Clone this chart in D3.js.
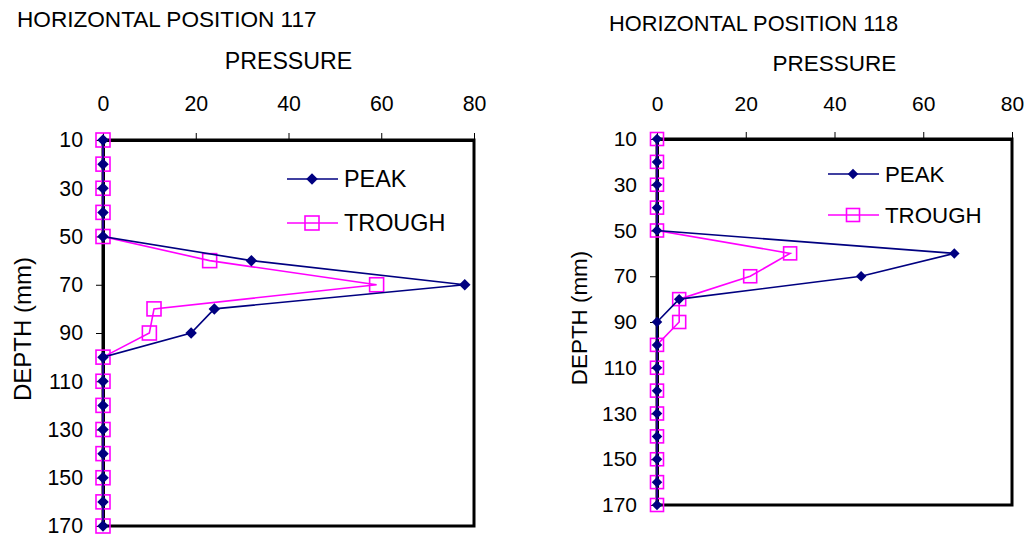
<!DOCTYPE html>
<html>
<head>
<meta charset="utf-8">
<script src="https://cdn.jsdelivr.net/npm/d3@7"></script>
<style>
  html, body { margin: 0; padding: 0; background: #fff; }
  svg { display: block; font-family: Arial, "Liberation Sans", sans-serif; }
</style>
</head>
<body>
<svg id="chart" width="1029" height="537"></svg>
<script>
// ---- data ----
const depths = [10, 20, 30, 40, 50, 60, 70, 80, 90, 100, 110, 120, 130, 140, 150, 160, 170];
const peak117 = [0, 0, 0, 0, 0, 32, 78, 24, 19, 0, 0, 0, 0, 0, 0, 0, 0];
const trough117 = [0, 0, 0, 0, 0, 23, 59, 11, 10, 0, 0, 0, 0, 0, 0, 0, 0];
const peak118 = [0, 0, 0, 0, 0, 67, 46, 5, 0, 0, 0, 0, 0, 0, 0, 0, 0];
const trough118 = [0, 0, 0, 0, 0, 30, 21, 5, 5, 0, 0, 0, 0, 0, 0, 0, 0];
const xTicks = [0, 20, 40, 60, 80];
const yTicks = [10, 30, 50, 70, 90, 110, 130, 150, 170];
const seriesNames = ["PEAK", "TROUGH"];
const panelTitles = ["HORIZONTAL POSITION 117", "HORIZONTAL POSITION 118"];
const xTitle = "PRESSURE";
const yTitle = "DEPTH (mm)";

const PEAK_COLOR = "#000080";
const TROUGH_COLOR = "#FF00FF";

const svg = d3.select("#chart");

const panels = [
  { title: panelTitles[0], peak: peak117, trough: trough117,
    x0: 103, x1: 474, y0: 140, y1: 526,
    titleX: 17, titleY: 27, xTitleY: 69, tickY: 111,
    yTitleX: 31, legX: 287, legY: 179, legGap: 44, diamond: 11.5, square: 14,
    fTitle: 22.6, fAxisTitle: 23.2, fYTitle: 24, fTick: 21.3, fLeg: 23.4 },
  { title: panelTitles[1], peak: peak118, trough: trough118,
    x0: 657, x1: 1012, y0: 139, y1: 505,
    titleX: 609, titleY: 31, xTitleY: 71, tickY: 111,
    yTitleX: 587, legX: 828, legY: 174, legGap: 41, diamond: 10.5, square: 13,
    fTitle: 21.8, fAxisTitle: 22.5, fYTitle: 22.4, fTick: 21, fLeg: 22.3 }
];

function diamondPath(s) {
  const h = s / 2;
  return `M0,${-h}L${h},0L0,${h}L${-h},0Z`;
}

panels.forEach(p => {
  const g = svg.append("g");
  const x = d3.scaleLinear().domain([0, 80]).range([p.x0, p.x1]);
  const y = d3.scaleLinear().domain([10, 170]).range([p.y0, p.y1]);

  // titles
  g.append("text").attr("x", p.titleX).attr("y", p.titleY)
    .attr("font-size", p.fTitle).attr("fill", "#000").text(p.title);
  g.append("text").attr("x", (p.x0 + p.x1) / 2).attr("y", p.xTitleY)
    .attr("text-anchor", "middle").attr("font-size", p.fAxisTitle).attr("fill", "#000").text(xTitle);
  g.append("text")
    .attr("transform", `translate(${p.yTitleX},${(p.y0 + p.y1) / 2 - 4}) rotate(-90)`)
    .attr("text-anchor", "middle").attr("font-size", p.fYTitle).attr("fill", "#000").text(yTitle);

  // plot border
  g.append("rect").attr("x", p.x0).attr("y", p.y0)
    .attr("width", p.x1 - p.x0).attr("height", p.y1 - p.y0)
    .attr("fill", "none").attr("stroke", "#000").attr("stroke-width", 3);

  // top axis
  const xAxis = d3.axisTop(x).tickValues(xTicks).tickSize(7).tickPadding(p.y0 - 7 - p.tickY).tickSizeOuter(0);
  const gx = g.append("g").attr("transform", `translate(0,${p.y0})`).call(xAxis);
  gx.select(".domain").attr("stroke", "#000").attr("stroke-width", 3);
  gx.selectAll(".tick line").attr("stroke", "#000").attr("stroke-width", 1);
  gx.selectAll(".tick text").attr("font-size", p.fTick).attr("fill", "#000")
    .attr("font-family", "Arial, 'Liberation Sans', sans-serif").attr("dy", "0");

  // left axis
  const yAxis = d3.axisLeft(y).tickValues(yTicks).tickSize(7).tickPadding(13).tickSizeOuter(0);
  const gy = g.append("g").attr("transform", `translate(${p.x0},0)`).call(yAxis);
  gy.select(".domain").attr("stroke", "#000").attr("stroke-width", 3);
  gy.selectAll(".tick line").attr("stroke", "#000").attr("stroke-width", 1);
  gy.selectAll(".tick text").attr("font-size", p.fTick).attr("fill", "#000")
    .attr("font-family", "Arial, 'Liberation Sans', sans-serif");

  const line = d3.line().x(d => x(d.v)).y(d => y(d.d));
  const peakData = depths.map((d, i) => ({ d, v: p.peak[i] }));
  const troughData = depths.map((d, i) => ({ d, v: p.trough[i] }));

  // trough
  g.append("path").datum(troughData).attr("d", line)
    .attr("fill", "none").attr("stroke", TROUGH_COLOR).attr("stroke-width", 1.6);
  g.selectAll(".tm").data(troughData).enter().append("rect")
    .attr("x", d => x(d.v) - p.square / 2).attr("y", d => y(d.d) - p.square / 2)
    .attr("width", p.square).attr("height", p.square)
    .attr("fill", "none").attr("stroke", TROUGH_COLOR).attr("stroke-width", 1.6);

  // peak
  g.append("path").datum(peakData).attr("d", line)
    .attr("fill", "none").attr("stroke", PEAK_COLOR).attr("stroke-width", 1.6);
  g.selectAll(".pm").data(peakData).enter().append("path")
    .attr("transform", d => `translate(${x(d.v)},${y(d.d)})`)
    .attr("d", diamondPath(p.diamond)).attr("fill", PEAK_COLOR);

  // legend
  const lg = g.append("g").attr("transform", `translate(${p.legX},${p.legY})`);
  const items = [
    { name: seriesNames[0], color: PEAK_COLOR, kind: "diamond" },
    { name: seriesNames[1], color: TROUGH_COLOR, kind: "square" }
  ];
  items.forEach((it, i) => {
    const row = lg.append("g").attr("transform", `translate(0,${i * p.legGap})`);
    row.append("line").attr("x1", 0).attr("x2", 51).attr("y1", 0).attr("y2", 0)
      .attr("stroke", it.color).attr("stroke-width", 1.6);
    if (it.kind === "diamond") {
      row.append("path").attr("transform", "translate(25,0)")
        .attr("d", diamondPath(p.diamond)).attr("fill", it.color);
    } else {
      row.append("rect").attr("x", 25 - p.square / 2).attr("y", -p.square / 2)
        .attr("width", p.square).attr("height", p.square)
        .attr("fill", "none").attr("stroke", it.color).attr("stroke-width", 1.6);
    }
    row.append("text").attr("x", 57).attr("y", 0).attr("dy", "0.36em")
      .attr("font-size", p.fLeg).attr("fill", "#000").text(it.name);
  });
});
</script>
</body>
</html>
